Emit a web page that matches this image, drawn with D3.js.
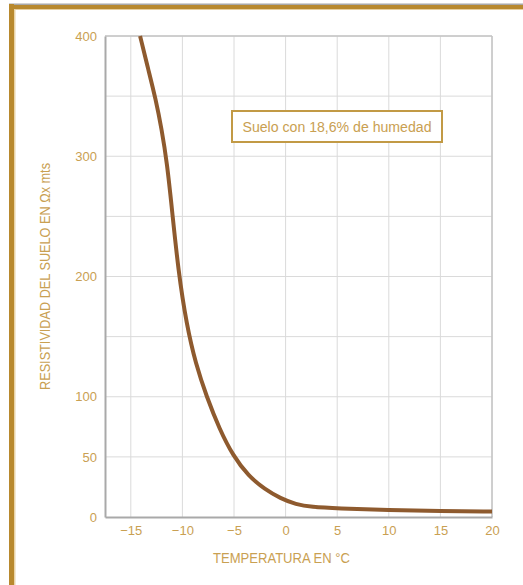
<!DOCTYPE html>
<html><head><meta charset="utf-8">
<script src="https://cdn.jsdelivr.net/npm/d3@7"></script>
<style>
html,body{margin:0;padding:0;background:#fff;}
svg{display:block;}
</style></head>
<body>
<script>
// Data
const temperatures = [-14.1, -13.3, -12.6, -12.0, -11.5, -11.0, -10.4, -9.6, -8.7, -7.65, -6.4, -5.1, -3.6, -2, -0.5, 1, 2.5, 5, 10, 15, 20];
const resistivity  = [400, 372, 348, 322, 295, 255, 205, 160, 127, 100, 73, 51, 34, 23, 15.5, 10.5, 8.3, 7.2, 5.8, 5, 4.5];
const xTicks = [-15, -10, -5, 0, 5, 10, 15, 20];
const yTickLabels = [0, 50, 100, 200, 300, 400];
const yGrid = [50, 100, 150, 200, 250, 300, 350, 400];
const xTitle = "TEMPERATURA EN °C";
const yTitle = "RESISTIVIDAD DEL SUELO EN Ωx mts";
const legendText = "Suelo con 18,6% de humedad";

const W = 523, H = 585;
const plot = {left: 105, right: 492, top: 36, bottom: 517};
const gold = "#C9A052";
const frameGold = "#B8892E";
const brown = "#8E5A2E";
const font = "'Liberation Sans',Arial,sans-serif";

const svg = d3.select("body").append("svg").attr("width", W).attr("height", H);

// Frame
svg.append("rect").attr("x", 9).attr("y", 3.5).attr("width", W - 9).attr("height", 1.5).attr("fill", "#A8A8A8");
svg.append("rect").attr("x", 9).attr("y", 5).attr("width", W - 9).attr("height", 4).attr("fill", frameGold);
svg.append("rect").attr("x", 9).attr("y", 9).attr("width", W - 9).attr("height", 1).attr("fill", "#E6CFA0");
svg.append("rect").attr("x", 9).attr("y", 4).attr("width", 5).attr("height", H - 4).attr("fill", frameGold);
svg.append("rect").attr("x", 14).attr("y", 9).attr("width", 1.5).attr("height", H - 9).attr("fill", "#E9D4A8");

const x = d3.scaleLinear().domain([-17.5, 20]).range([plot.left, plot.right]);
const y = d3.scaleLinear().domain([0, 400]).range([plot.bottom, plot.top]);

// Grid
const g = svg.append("g");
g.selectAll("line.vg").data(xTicks).enter().append("line")
  .attr("x1", d => x(d)).attr("x2", d => x(d))
  .attr("y1", plot.top).attr("y2", plot.bottom)
  .attr("stroke", "#DADADA").attr("stroke-width", 1);
g.selectAll("line.hg").data(yGrid).enter().append("line")
  .attr("x1", plot.left).attr("x2", plot.right)
  .attr("y1", d => y(d)).attr("y2", d => y(d))
  .attr("stroke", "#DADADA").attr("stroke-width", 1);

// Plot border
svg.append("line").attr("x1", plot.left).attr("x2", plot.right).attr("y1", plot.top).attr("y2", plot.top).attr("stroke", "#C4C4C4").attr("stroke-width", 1.5);
svg.append("line").attr("x1", plot.right).attr("x2", plot.right).attr("y1", plot.top).attr("y2", plot.bottom).attr("stroke", "#C4C4C4").attr("stroke-width", 1.5);

// Axes
const xAxis = d3.axisBottom(x).tickValues(xTicks).tickSize(0).tickPadding(9);
const yAxis = d3.axisLeft(y).tickValues(yTickLabels).tickSize(0).tickPadding(8);
const xa = svg.append("g").attr("transform", `translate(0,${plot.bottom})`).call(xAxis);
const ya = svg.append("g").attr("transform", `translate(${plot.left},0)`).call(yAxis);
[xa, ya].forEach(a => {
  a.select(".domain").attr("stroke", "#A9A9A9").attr("stroke-width", 2);
  a.selectAll("text").attr("fill", gold).attr("font-family", font).attr("font-size", 13);
});

// Curve
const pts = temperatures.map((t, i) => [t, resistivity[i]]);
const line = d3.line().x(d => x(d[0])).y(d => y(d[1])).curve(d3.curveBasis);
svg.append("path").datum(pts).attr("d", line)
  .attr("fill", "none").attr("stroke", brown).attr("stroke-width", 4).attr("stroke-linecap", "butt");

// Legend box
svg.append("rect").attr("x", 232).attr("y", 111).attr("width", 210).attr("height", 31)
  .attr("fill", "#fff").attr("stroke", "#C29A45").attr("stroke-width", 2);
svg.append("text").attr("x", 242.5).attr("y", 131.5)
  .attr("fill", gold).attr("font-family", font).attr("font-size", 14)
  .attr("textLength", 189).attr("lengthAdjust", "spacingAndGlyphs").text(legendText);

// Titles
svg.append("text").attr("x", 213).attr("y", 563)
  .attr("fill", gold).attr("font-family", font).attr("font-size", 14)
  .attr("textLength", 137).attr("lengthAdjust", "spacingAndGlyphs").text(xTitle);
svg.append("text").attr("transform", `translate(49.5,390) rotate(-90)`)
  .attr("fill", gold).attr("font-family", font).attr("font-size", 14)
  .attr("textLength", 227).attr("lengthAdjust", "spacingAndGlyphs").text(yTitle);
</script>
</body></html>
